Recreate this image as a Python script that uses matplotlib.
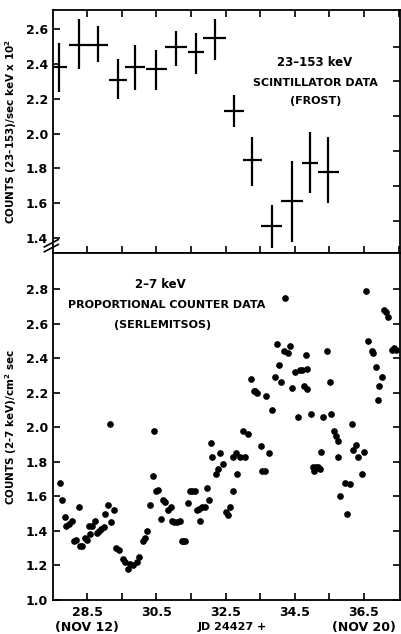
import numpy as np
import matplotlib
matplotlib.use('Agg')
import matplotlib.pyplot as plt
from matplotlib.ticker import MultipleLocator, FixedLocator

# Upper panel: 23-153 keV scintillator data (FROST)
scint_day = [27.69, 28.26, 28.80, 29.39, 29.89, 30.50, 31.06, 31.65, 32.18, 32.74, 33.27, 33.83, 34.42, 34.94, 35.47]
scint_dx = [0.23, 0.29, 0.29, 0.26, 0.29, 0.31, 0.31, 0.23, 0.33, 0.28, 0.28, 0.30, 0.31, 0.23, 0.30]
scint_cnt = [2.38, 2.51, 2.51, 2.31, 2.38, 2.37, 2.50, 2.47, 2.55, 2.13, 1.85, 1.47, 1.61, 1.83, 1.78]
scint_hi = [2.52, 2.66, 2.62, 2.43, 2.51, 2.48, 2.59, 2.58, 2.66, 2.22, 1.98, 1.59, 1.84, 2.01, 1.98]
scint_lo = [2.24, 2.37, 2.41, 2.20, 2.25, 2.25, 2.39, 2.34, 2.42, 2.04, 1.70, 1.34, 1.38, 1.66, 1.60]

# Lower panel: 2-7 keV proportional counter data (SERLEMITSOS)
prop_day = [27.71, 27.78, 27.85, 27.90, 27.98, 28.05, 28.11, 28.17, 28.25, 28.29,
            28.36, 28.43, 28.50, 28.56, 28.58, 28.65, 28.72, 28.79, 28.85, 28.89,
            28.98, 29.01, 29.09, 29.16, 29.20, 29.28, 29.33, 29.42, 29.52, 29.59,
            29.68, 29.75, 29.83, 29.93, 30.00, 30.10, 30.17, 30.23, 30.31, 30.39,
            30.42, 30.50, 30.55, 30.62, 30.70, 30.76, 30.84, 30.91, 30.94, 31.00,
            31.08, 31.18, 31.23, 31.27, 31.32, 31.42, 31.47, 31.54, 31.61, 31.66,
            31.74, 31.76, 31.83, 31.90, 31.97, 32.02, 32.09, 32.12, 32.22, 32.29,
            32.35, 32.43, 32.52, 32.57, 32.62, 32.70, 32.72, 32.80, 32.83, 32.91,
            32.99, 33.07, 33.15, 33.23, 33.32, 33.35, 33.41, 33.52, 33.54, 33.63,
            33.68, 33.76, 33.83, 33.93, 33.99, 34.05, 34.09, 34.18, 34.21, 34.31,
            34.35, 34.43, 34.50, 34.58, 34.65, 34.71, 34.76, 34.82, 34.84, 34.86,
            34.96, 35.03, 35.06, 35.10, 35.17, 35.24, 35.27, 35.30, 35.44, 35.51,
            35.56, 35.63, 35.68, 35.75, 35.75, 35.82, 35.94, 36.01, 36.09, 36.16,
            36.17, 36.28, 36.33, 36.43, 36.50, 36.57, 36.62, 36.72, 36.77, 36.84,
            36.89, 36.94, 37.03, 37.07, 37.13, 37.20, 37.30, 37.36, 37.42]
prop_cnt = [1.68, 1.58, 1.48, 1.43, 1.44, 1.46, 1.34, 1.35, 1.54, 1.31,
            1.31, 1.36, 1.35, 1.43, 1.38, 1.43, 1.46, 1.39, 1.40, 1.41,
            1.42, 1.50, 1.55, 2.02, 1.45, 1.52, 1.30, 1.29, 1.24, 1.22,
            1.18, 1.21, 1.20, 1.22, 1.25, 1.34, 1.36, 1.40, 1.55, 1.72,
            1.98, 1.63, 1.64, 1.47, 1.58, 1.57, 1.52, 1.54, 1.46, 1.45,
            1.45, 1.46, 1.34, 1.34, 1.34, 1.56, 1.63, 1.63, 1.63, 1.52,
            1.53, 1.46, 1.54, 1.54, 1.65, 1.58, 1.91, 1.83, 1.73, 1.76,
            1.85, 1.79, 1.51, 1.49, 1.54, 1.63, 1.83, 1.85, 1.73, 1.83,
            1.98, 1.83, 1.96, 2.28, 2.21, 2.21, 2.20, 1.89, 1.75, 1.75,
            2.18, 1.85, 2.10, 2.29, 2.48, 2.36, 2.26, 2.44, 2.75, 2.43,
            2.47, 2.23, 2.32, 2.06, 2.33, 2.33, 2.24, 2.42, 2.34, 2.22,
            2.08, 1.77, 1.75, 1.77, 1.77, 1.76, 1.86, 2.06, 2.44, 2.26,
            2.08, 1.98, 1.95, 1.92, 1.83, 1.60, 1.68, 1.50, 1.67, 2.02,
            1.87, 1.90, 1.83, 1.73, 1.86, 2.79, 2.50, 2.44, 2.43, 2.35,
            2.16, 2.24, 2.29, 2.68, 2.67, 2.64, 2.45, 2.46, 2.45]

xticks_lbl = [28.5, 30.5, 32.5, 34.5, 36.5]
xtick_text = ['28.5\n(NOV 12)', '30.5', '32.5', '34.5', '36.5\n(NOV 20)']

plt.rcParams['font.family'] = ['Liberation Sans Narrow', 'DejaVu Sans']
plt.rcParams['font.weight'] = 'bold'

W, H = 401, 634
fig = plt.figure(figsize=(W / 100, H / 100), dpi=100)

def px_box(x0, y0, x1, y1):
    return [x0 / W, 1 - y1 / H, (x1 - x0) / W, (y1 - y0) / H]

ax1 = fig.add_axes(px_box(53, 10, 400, 253))
ax2 = fig.add_axes(px_box(53, 253, 400, 600))

xlim = (27.51, 37.54)

# upper panel
ax1.errorbar(scint_day, scint_cnt, xerr=scint_dx,
             yerr=[np.array(scint_cnt) - np.array(scint_lo), np.array(scint_hi) - np.array(scint_cnt)],
             fmt='none', ecolor='black', elinewidth=1.6, capsize=0)
ax1.set_xlim(*xlim)
ax1.set_ylim(1.314, 2.71)
ax1.yaxis.set_major_locator(FixedLocator([1.4, 1.6, 1.8, 2.0, 2.2, 2.4, 2.6]))
ax1.yaxis.set_minor_locator(FixedLocator([1.5, 1.7, 1.9, 2.1, 2.3, 2.5]))
ax1.xaxis.set_major_locator(MultipleLocator(1.0, offset=0.5))
ax1.tick_params(axis='x', which='both', direction='in', top=True, bottom=True,
                labelbottom=False, length=5, width=1.2)
ax1.tick_params(axis='y', which='major', direction='in', left=True, right=False,
                length=5, width=1.2, labelsize=9)
ax1.tick_params(axis='y', which='minor', direction='in', left=False, right=True,
                length=5, width=1.2)
ax1.set_ylabel('COUNTS (23-153)/sec keV x 10$^\\mathbf{2}$', fontsize=7.5, fontweight='bold')

# axis break marks
ax1.plot([-0.025, 0.015], [0.005, 0.035], transform=ax1.transAxes, color='black', lw=1.2, clip_on=False)
ax1.plot([-0.025, 0.015], [0.025, 0.055], transform=ax1.transAxes, color='black', lw=1.2, clip_on=False)

# lower panel
ax2.plot(prop_day, prop_cnt, 'o', color='black', markersize=3.8)
ax2.set_xlim(*xlim)
ax2.set_ylim(1.0, 3.01)
ax2.yaxis.set_major_locator(FixedLocator([1.0, 1.2, 1.4, 1.6, 1.8, 2.0, 2.2, 2.4, 2.6, 2.8]))
ax2.xaxis.set_major_locator(FixedLocator(xticks_lbl))
ax2.xaxis.set_minor_locator(FixedLocator([29.5, 31.5, 33.5, 35.5]))
ax2.set_xticklabels(xtick_text)
ax2.tick_params(axis='x', which='both', direction='in', top=False, bottom=True,
                length=5, width=1.2, labelsize=9, pad=4)
ax2.tick_params(axis='y', direction='in', left=True, right=True,
                length=5, width=1.2, labelsize=9)
ax2.set_ylabel('COUNTS (2-7 keV)/cm$^\\mathbf{2}$ sec', fontsize=7.5, fontweight='bold')

for ax in (ax1, ax2):
    for s in ax.spines.values():
        s.set_linewidth(1.3)
    for lbl in ax.get_yticklabels() + ax.get_xticklabels():
        lbl.set_fontweight('bold')
    ax.yaxis.set_label_coords(-0.097, 0.5)

def ftext(x, y, s, size=8):
    fig.text(x / W, 1 - y / H, s, ha='center', va='center', fontsize=size, fontweight='bold')

ftext(315, 63, '23\u2013153 keV', 8.5)
ftext(315, 83, 'SCINTILLATOR DATA')
ftext(316, 101, '(FROST)')
ftext(160, 284, '2\u20137 keV', 8.5)
ftext(167, 305, 'PROPORTIONAL COUNTER DATA')
ftext(163, 325, '(SERLEMITSOS)')
ftext(232, 627, 'JD 24427 +', 8)

fig.savefig('out.png', dpi=100)
